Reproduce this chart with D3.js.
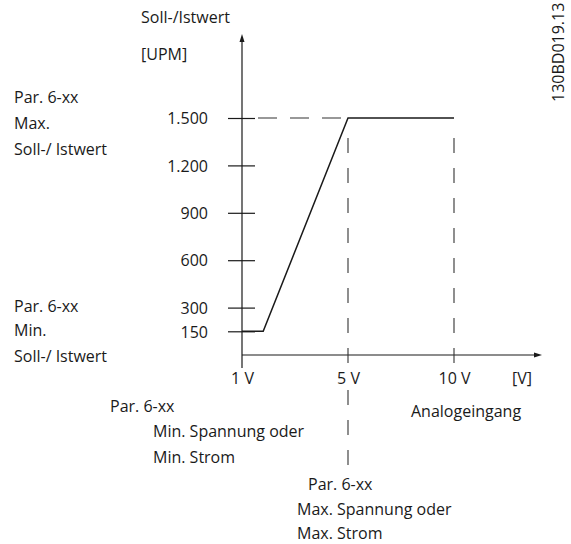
<!DOCTYPE html>
<html>
<head>
<meta charset="utf-8">
<script src="https://cdn.jsdelivr.net/npm/d3@7"></script>
<style>
  body { margin: 0; background: #fff; }
  svg text { font-family: "Open Sans", sans-serif; font-size: 16px; fill: #1a1a1a; }
</style>
</head>
<body>
<div id="chart"></div>
<script>
// Kennlinie: Analogeingang [V] -> Soll-/Istwert [UPM]
const inputVolts = [0, 1, 5, 10];
const speedRpm = [150, 150, 1500, 1500];
const yTicks = [150, 300, 600, 900, 1200, 1500];
const yTickLabels = ["150", "300", "600", "900", "1.200", "1.500"];
const xTicks = [0, 5, 10];
const xTickLabels = ["1 V", "5 V", "10 V"];

const width = 571, height = 544;

const svg = d3.select("#chart")
    .append("svg")
        .attr("width", width)
        .attr("height", height);

const x = d3.scaleLinear().domain([0, 10]).range([242, 454]);
const y = d3.scaleLinear().domain([0, 1500]).range([355, 118]);

// y axis, ticks cross the line
const yAxis = svg.append("g")
    .attr("transform", `translate(${x(0)},0)`)
    .call(d3.axisLeft(y)
        .tickValues(yTicks)
        .tickFormat((d, i) => yTickLabels[i])
        .tickSizeOuter(0));
yAxis.select(".domain").remove();
yAxis.selectAll(".tick line")
    .attr("x1", -14).attr("x2", 13)
    .attr("stroke", "#1a1a1a").attr("stroke-width", 1.2);
yAxis.selectAll(".tick text")
    .attr("x", -34).attr("dy", "0.36em")
    .attr("font-size", null).attr("font-family", null);

svg.append("line")
    .attr("x1", x(0)).attr("x2", x(0))
    .attr("y1", 40).attr("y2", 368)
    .attr("stroke", "#1a1a1a").attr("stroke-width", 1.2);
svg.append("path")
    .attr("d", `M${x(0) - 2.5},42 L${x(0)},34 L${x(0) + 2.5},42 Z`)
    .attr("fill", "#1a1a1a");

// x axis
const xAxis = svg.append("g")
    .attr("transform", `translate(0,${y(0)})`)
    .call(d3.axisBottom(x)
        .tickValues(xTicks)
        .tickFormat((d, i) => xTickLabels[i])
        .tickSize(0));
xAxis.select(".domain").remove();
xAxis.selectAll(".tick text")
    .attr("y", 29).attr("dy", 0)
    .attr("font-size", null).attr("font-family", null);

svg.append("line")
    .attr("x1", x(0)).attr("x2", 536)
    .attr("y1", y(0)).attr("y2", y(0))
    .attr("stroke", "#1a1a1a").attr("stroke-width", 1.2);
svg.append("path")
    .attr("d", `M534,${y(0) - 2.5} L542,${y(0)} L534,${y(0) + 2.5} Z`)
    .attr("fill", "#1a1a1a");

// dashed guides
const guide = (x1, y1, x2, y2, dash) => svg.append("line")
    .attr("x1", x1).attr("y1", y1)
    .attr("x2", x2).attr("y2", y2)
    .attr("stroke", "#333").attr("stroke-width", 1.1)
    .attr("stroke-dasharray", dash);

guide(x(0) + 16, y(1500), x(5), y(1500), "19,13");
guide(x(5), y(1500) + 20, x(5), y(0) + 13, "15,15");
guide(x(5), 390, x(5), 467, "15,15");
guide(x(10), y(1500) + 20, x(10), y(0) + 13, "15,15");

// characteristic curve
const line = d3.line()
    .x((d, i) => x(inputVolts[i]))
    .y(d => y(d));
svg.append("path")
    .datum(speedRpm)
    .attr("d", line)
    .attr("fill", "none")
    .attr("stroke", "#1a1a1a")
    .attr("stroke-width", 1.5);

// labels
const labels = [
    ["Soll-/Istwert", 141, 23],
    ["[UPM]", 141, 60],
    ["Par. 6-xx", 14, 103],
    ["Max.", 14, 129],
    ["Soll-/ Istwert", 14, 155],
    ["Par. 6-xx", 14, 312],
    ["Min.", 14, 336],
    ["Soll-/ Istwert", 14, 362],
    ["[V]", 512, 384],
    ["Par. 6-xx", 110, 412],
    ["Min. Spannung oder", 153, 437],
    ["Min. Strom", 153, 463],
    ["Analogeingang", 411, 417],
    ["Par. 6-xx", 308, 490],
    ["Max. Spannung oder", 297, 515],
    ["Max. Strom", 297, 539]
];
svg.selectAll("text.lbl")
    .data(labels)
    .enter().append("text")
        .attr("class", "lbl")
        .attr("x", d => d[1])
        .attr("y", d => d[2])
        .text(d => d[0]);

svg.append("text")
    .attr("transform", "translate(564,102) rotate(-90)")
    .text("130BD019.13");
</script>
</body>
</html>
